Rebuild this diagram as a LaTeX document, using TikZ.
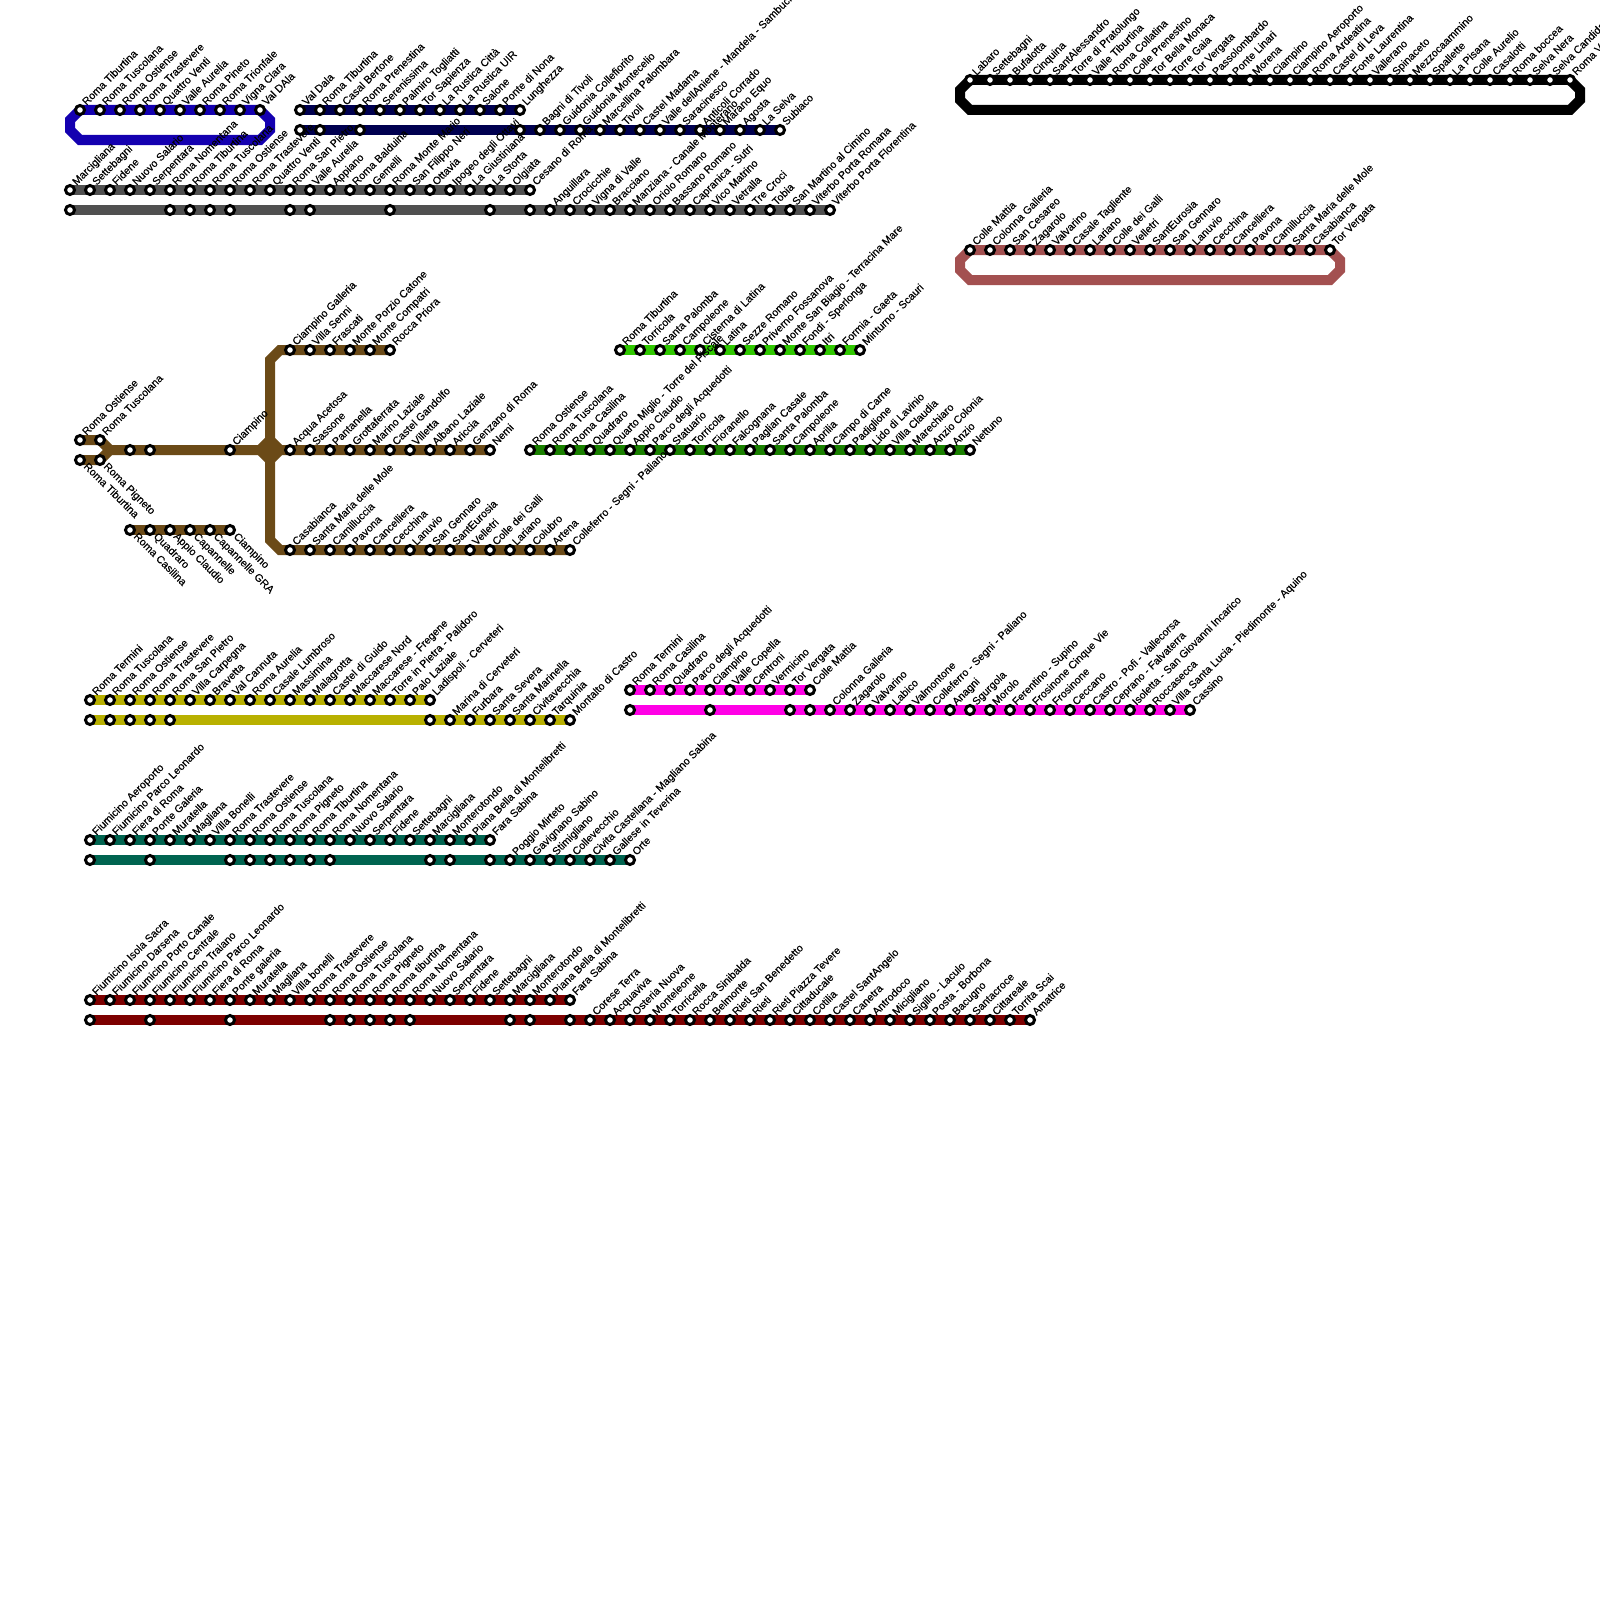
\documentclass[tikz,border=0pt]{standalone}
\usepackage{fontspec}
\setmainfont{Liberation Sans}[FakeBold=0.3]
\usetikzlibrary{backgrounds}

\definecolor{blueline}{RGB}{20,0,176}
\definecolor{navyline}{RGB}{0,0,80}
\definecolor{greyline}{RGB}{80,80,80}
\definecolor{roseline}{RGB}{163,80,80}
\definecolor{brownline}{RGB}{107,74,23}
\definecolor{limeline}{RGB}{48,200,0}
\definecolor{greenline}{RGB}{26,128,0}
\definecolor{oliveline}{RGB}{184,176,0}
\definecolor{pinkline}{RGB}{255,0,230}
\definecolor{tealline}{RGB}{0,100,80}
\definecolor{redline}{RGB}{125,0,0}

\begin{document}
\begin{tikzpicture}[x=1pt, y=-1pt,
    every node/.style={font=\fontsize{10.7}{11}\selectfont},
    stn/.style={circle, draw=black, fill=white, line width=3pt, minimum size=9pt, inner sep=0pt, outer sep=0pt},
    lblup/.style={anchor=base west, inner sep=0pt, xshift=6.5pt, yshift=4pt, rotate=45},
    lbldown/.style={anchor=base west, inner sep=0pt, xshift=3pt, yshift=-7pt, rotate=-45},
    track/.style={line width=10pt}]

    \useasboundingbox (0,0) rectangle (1600,1600);

    % blue ring
    \foreach \stop [count=\i from 0] in {Roma Tiburtina, Roma Tuscolana, Roma Ostiense, Roma Trastevere, Quattro Venti, Valle Aurelia, Roma Pineto, Roma Trionfale, Vigna Clara, Val DAla} {
        \node[stn] (blue\i) at (80+20*\i,110) {};
        \node[lblup] (bluel\i) at (blue\i) {\stop};
    }
    \begin{scope}[on background layer]
        \draw[track, blueline] (blue0.center) -- (blue9.center) -- ++(10,10) -- ++(0,10) -- ++(-10,10) -- ++(-180,0) -- ++(-10,-10) -- ++(0,-10) -- cycle;
    \end{scope}

    % navy top
    \foreach \stop [count=\i from 0] in {Val Dala, Roma Tiburtina, Casal Bertone, Roma Prenestina, Serenissima, Palmiro Togliatti, Tor Sapienza, La Rustica Città, La Rustica UIR, Salone, Ponte di Nona, Lunghezza} {
        \node[stn] (navya\i) at (300+20*\i,110) {};
        \node[lblup] (navyal\i) at (navya\i) {\stop};
    }
    % navy bottom
    \foreach \px in {300,320,360,520} \node[stn] (navyb\px) at (\px,130) {};
    \foreach \stop [count=\i from 0] in {Bagni di Tivoli, Guidonia Collefiorito, Guidonia Montecelio, Marcellina Palombara, Tivoli, Castel Madama, Valle dellAniene - Mandela - Sambuci, Saracinesco, Anticoli Corrado, Marano Equo, Agosta, La Selva, Subiaco} {
        \node[stn] (navyc\i) at (540+20*\i,130) {};
        \node[lblup] (navycl\i) at (navyc\i) {\stop};
    }
    \begin{scope}[on background layer]
        \draw[track, navyline] (navya0.center) -- (navya11.center);
        \draw[track, navyline] (navyb300.center) -- (navyc12.center);
    \end{scope}

    % grey top
    \foreach \stop [count=\i from 0] in {Marcigliana, Settebagni, Fidene, Nuovo Salario, Serpentara, Roma Nomentana, Roma Tiburtina, Roma Tuscolana, Roma Ostiense, Roma Trastevere, Quattro Venti, Roma San Pietro, Valle Aurelia, Appiano, Roma Balduina, Gemelli, Roma Monte Mario, San Filippo Neri, Ottavia, Ipogeo degli Ottavi, La Giustiniana, La Storta, Olgiata, Cesano di Roma} {
        \node[stn] (greya\i) at (70+20*\i,190) {};
        \node[lblup] (greyal\i) at (greya\i) {\stop};
    }
    % grey bottom
    \foreach \px in {70,170,190,210,230,290,310,390,490,530} \node[stn] (greyb\px) at (\px,210) {};
    \foreach \stop [count=\i from 0] in {Anguillara, Crocicchie, Vigna di Valle, Bracciano, Manziana - Canale Monterano, Oriolo Romano, Bassano Romano, Capranica - Sutri, Vico Matrino, Vetralla, Tre Croci, Tobia, San Martino al Cimino, Viterbo Porta Romana, Viterbo Porta Florentina} {
        \node[stn] (greyc\i) at (550+20*\i,210) {};
        \node[lblup] (greycl\i) at (greyc\i) {\stop};
    }
    \begin{scope}[on background layer]
        \draw[track, greyline] (greya0.center) -- (greya23.center);
        \draw[track, greyline] (greyb70.center) -- (greyc14.center);
    \end{scope}

    % black ring
    \foreach \stop [count=\i from 0] in {Labaro, Settebagni, Bufalotta, Cinquina, SantAlessandro, Torre di Pratolungo, Valle Tiburtina, Roma Collatina, Colle Prenestino, Tor Bella Monaca, Torre Gaia, Tor Vergata, Passolombardo, Ponte Linari, Morena, Ciampino, Ciampino Aeroporto, Roma Ardeatina, Castel di Leva, Fonte Laurentina, Vallerano, Spinaceto, Mezzocaammino, Spallette, La Pisana, Colle Aurelio, Casalotti, Roma boccea, Selva Nera, Selva Candida, Roma V} {
        \node[stn] (ring\i) at (970+20*\i,80) {};
        \node[lblup] (ringl\i) at (ring\i) {\stop};
    }
    \begin{scope}[on background layer]
        \draw[track, black] (ring0.center) -- (ring30.center) -- ++(10,10) -- ++(0,10) -- ++(-10,10) -- ++(-600,0) -- ++(-10,-10) -- ++(0,-10) -- cycle;
    \end{scope}

    % rose ring
    \foreach \stop [count=\i from 0] in {Colle Mattia, Colonna Galleria, San Cesareo, Zagarolo, Valvarino, Casale Tagliente, Lariano, Colle dei Galli, Velletri, SantEurosia, San Gennaro, Lanuvio, Cecchina, Cancelliera, Pavona, Camilluccia, Santa Maria delle Mole, Casabianca, Tor Vergata} {
        \node[stn] (rose\i) at (970+20*\i,250) {};
        \node[lblup] (rosel\i) at (rose\i) {\stop};
    }
    \begin{scope}[on background layer]
        \draw[track, roseline] (rose0.center) -- (rose18.center) -- ++(10,10) -- ++(0,10) -- ++(-10,10) -- ++(-360,0) -- ++(-10,-10) -- ++(0,-10) -- cycle;
    \end{scope}

    % brown stem
    \node[stn] (brownos) at (80,440) {};
    \node[lblup] (brownosl) at (brownos) {Roma Ostiense};
    \node[stn] (browntu) at (100,440) {};
    \node[lblup] (browntul) at (browntu) {Roma Tuscolana};
    \node[stn] (brownti) at (80,460) {};
    \node[lbldown] (browntil) at (brownti) {Roma Tiburtina};
    \node[stn] (brownpi) at (100,460) {};
    \node[lbldown] (brownpil) at (brownpi) {Roma Pigneto};
    \node[stn] (brownp) at (130,450) {};
    \node[stn] (brownq) at (150,450) {};
    \node[stn] (brownci) at (230,450) {};
    \node[lblup] (browncil) at (brownci) {Ciampino};
    \coordinate (brownfork) at (110,450);
    \coordinate (hubw) at (260,450);
    \coordinate (hube) at (280,450);
    \coordinate (hubn) at (270,440);
    \coordinate (hubs) at (270,460);
    \coordinate (bendna) at (270,360);
    \coordinate (bendnb) at (280,350);
    \coordinate (bendsa) at (270,540);
    \coordinate (bendsb) at (280,550);

    % brown top
    \foreach \stop [count=\i from 0] in {Ciampino Galleria, Villa Senni, Frascati, Monte Porzio Catone, Monte Compatri, Rocca Priora} {
        \node[stn] (browna\i) at (290+20*\i,350) {};
        \node[lblup] (brownal\i) at (browna\i) {\stop};
    }
    % brown middle
    \foreach \stop [count=\i from 0] in {Acqua Acetosa, Sassone, Pantanella, Grottaferrata, Marino Laziale, Castel Gandolfo, Villetta, Albano Laziale, Ariccia, Genzano di Roma, Nemi} {
        \node[stn] (brownb\i) at (290+20*\i,450) {};
        \node[lblup] (brownbl\i) at (brownb\i) {\stop};
    }
    % brown bottom
    \foreach \stop [count=\i from 0] in {Casabianca, Santa Maria delle Mole, Camilluccia, Pavona, Cancelliera, Cecchina, Lanuvio, San Gennaro, SantEurosia, Velletri, Colle dei Galli, Lariano, Colubro, Artena, Colleferro - Segni - Paliano} {
        \node[stn] (brownc\i) at (290+20*\i,550) {};
        \node[lblup] (browncl\i) at (brownc\i) {\stop};
    }
    % brown spur
    \foreach \stop [count=\i from 0] in {Roma Casilina, Quadraro, Appio Claudio, Capannelle, Capannelle GRA, Ciampino} {
        \node[stn] (brownd\i) at (130+20*\i,530) {};
        \node[lbldown] (browndl\i) at (brownd\i) {\stop};
    }
    \begin{scope}[on background layer]
        \draw[track, brownline] (brownos.center) -- (browntu.center) -- (brownfork) -- (brownb10.center);
        \draw[track, brownline] (brownti.center) -- (brownpi.center) -- (brownfork);
        \draw[track, brownline] (browna5.center) -- (bendnb) -- (bendna) -- (hubn) -- (hube) -- (hubs) -- (bendsa) -- (bendsb) -- (brownc14.center);
        \draw[track, brownline] (hubn) -- (hubw) -- (hubs);
        \draw[track, brownline] (brownd0.center) -- (brownd5.center);
    \end{scope}

    % lime
    \foreach \stop [count=\i from 0] in {Roma Tiburtina, Torricola, Santa Palomba, Campoleone, Cisterna di Latina, Latina, Sezze Romano, Priverno Fossanova, Monte San Biagio - Terracina Mare, Fondi - Sperlonga, Itri, Formia - Gaeta, Minturno - Scauri} {
        \node[stn] (lime\i) at (620+20*\i,350) {};
        \node[lblup] (limel\i) at (lime\i) {\stop};
    }
    % green
    \foreach \stop [count=\i from 0] in {Roma Ostiense, Roma Tuscolana, Roma Casilina, Quadraro, Quarto Miglio - Torre del Fiscale, Appio Claudio, Parco degli Acquedotti, Statuario, Torricola, Fioranello, Falcognana, Paglian Casale, Santa Palomba, Campoleone, Aprilia, Campo di Carne, Padiglione, Lido di Lavinio, Villa Claudia, Marechiaro, Anzio Colonia, Anzio, Nettuno} {
        \node[stn] (green\i) at (530+20*\i,450) {};
        \node[lblup] (greenl\i) at (green\i) {\stop};
    }
    \begin{scope}[on background layer]
        \draw[track, limeline] (lime0.center) -- (lime12.center);
        \draw[track, greenline] (green0.center) -- (green22.center);
    \end{scope}

    % olive top
    \foreach \stop [count=\i from 0] in {Roma Termini, Roma Tuscolana, Roma Ostiense, Roma Trastevere, Roma San Pietro, Villa Carpegna, Bravetta, Val Cannuta, Roma Aurelia, Casale Lumbroso, Massimina, Malagrotta, Castel di Guido, Maccarese Nord, Maccarese - Fregene, Torre in Pietra - Palidoro, Palo Laziale, Ladispoli - Cerveteri} {
        \node[stn] (olivea\i) at (90+20*\i,700) {};
        \node[lblup] (oliveal\i) at (olivea\i) {\stop};
    }
    % olive bottom
    \foreach \px in {90,110,130,150,170,430} \node[stn] (oliveb\px) at (\px,720) {};
    \foreach \stop [count=\i from 0] in {Marina di Cerveteri, Furbara, Santa Severa, Santa Marinella, Civitavecchia, Tarquinia, Montalto di Castro} {
        \node[stn] (olivec\i) at (450+20*\i,720) {};
        \node[lblup] (olivecl\i) at (olivec\i) {\stop};
    }
    \begin{scope}[on background layer]
        \draw[track, oliveline] (olivea0.center) -- (olivea17.center);
        \draw[track, oliveline] (oliveb90.center) -- (olivec6.center);
    \end{scope}

    % pink top
    \foreach \stop [count=\i from 0] in {Roma Termini, Roma Casilina, Quadraro, Parco degli Acquedotti, Ciampino, Valle Copella, Centroni, Vermicino, Tor Vergata, Colle Mattia} {
        \node[stn] (pinka\i) at (630+20*\i,690) {};
        \node[lblup] (pinkal\i) at (pinka\i) {\stop};
    }
    % pink bottom
    \foreach \px in {630,710,790,810} \node[stn] (pinkb\px) at (\px,710) {};
    \foreach \stop [count=\i from 0] in {Colonna Galleria, Zagarolo, Valvarino, Labico, Valmontone, Colleferro - Segni - Paliano, Anagni, Sgurgola, Morolo, Ferentino - Supino, Frosinone Cinque Vie, Frosinone, Ceccano, Castro - Pofi - Vallecorsa, Ceprano - Falvaterra, Isoletta - San Giovanni Incarico, Roccasecca, Villa Santa Lucia - Piedimonte - Aquino, Cassino} {
        \node[stn] (pinkc\i) at (830+20*\i,710) {};
        \node[lblup] (pinkcl\i) at (pinkc\i) {\stop};
    }
    \begin{scope}[on background layer]
        \draw[track, pinkline] (pinka0.center) -- (pinka9.center);
        \draw[track, pinkline] (pinkb630.center) -- (pinkc18.center);
    \end{scope}

    % teal top
    \foreach \stop [count=\i from 0] in {Fiumicino Aeroporto, Fiumicino Parco Leonardo, Fiera di Roma, Ponte Galeria, Muratella, Magliana, Villa Bonelli, Roma Trastevere, Roma Ostiense, Roma Tuscolana, Roma Pigneto, Roma Tiburtina, Roma Nomentana, Nuovo Salario, Serpentara, Fidene, Settebagni, Marcigliana, Monterotondo, Piana Bella di Montelibretti, Fara Sabina} {
        \node[stn] (teala\i) at (90+20*\i,840) {};
        \node[lblup] (tealal\i) at (teala\i) {\stop};
    }
    % teal bottom
    \foreach \px in {90,150,230,250,270,290,310,330,430,450,490} \node[stn] (tealb\px) at (\px,860) {};
    \foreach \stop [count=\i from 0] in {Poggio Mirteto, Gavignano Sabino, Stimigliano, Collevecchio, Civita Castellana - Magliano Sabina, Gallese in Teverina, Orte} {
        \node[stn] (tealc\i) at (510+20*\i,860) {};
        \node[lblup] (tealcl\i) at (tealc\i) {\stop};
    }
    \begin{scope}[on background layer]
        \draw[track, tealline] (teala0.center) -- (teala20.center);
        \draw[track, tealline] (tealb90.center) -- (tealc6.center);
    \end{scope}

    % red top
    \foreach \stop [count=\i from 0] in {Fiumicino Isola Sacra, Fiumicino Darsena, Fiumicino Porto Canale, Fiumicino Centrale, Fiumicino Traiano, Fiumicino Parco Leonardo, Fiera di Roma, Ponte galeria, Muratella, Magliana, Villa bonelli, Roma Trastevere, Roma Ostiense, Roma Tuscolana, Roma Pigneto, Roma tiburtina, Roma Nomentana, Nuovo Salario, Serpentara, Fidene, Settebagni, Marcigliana, Monterotondo, Piana Bella di Montelibretti, Fara Sabina} {
        \node[stn] (reda\i) at (90+20*\i,1000) {};
        \node[lblup] (redal\i) at (reda\i) {\stop};
    }
    % red bottom
    \foreach \px in {90,150,230,330,350,370,390,410,510,530,570} \node[stn] (redb\px) at (\px,1020) {};
    \foreach \stop [count=\i from 0] in {Corese Terra, Acquaviva, Osteria Nuova, Monteleone, Torricella, Rocca Sinibalda, Belmonte, Rieti San Benedetto, Rieti, Rieti Piazza Tevere, Cittaducale, Cotilia, Castel SantAngelo, Canetra, Antrodoco, Micigliano, Sigillo - Laculo, Posta - Borbona, Bacugno, Santacroce, Cittareale, Torrita Scai, Amatrice} {
        \node[stn] (redc\i) at (590+20*\i,1020) {};
        \node[lblup] (redcl\i) at (redc\i) {\stop};
    }
    \begin{scope}[on background layer]
        \draw[track, redline] (reda0.center) -- (reda24.center);
        \draw[track, redline] (redb90.center) -- (redc22.center);
    \end{scope}

\end{tikzpicture}
\end{document}
